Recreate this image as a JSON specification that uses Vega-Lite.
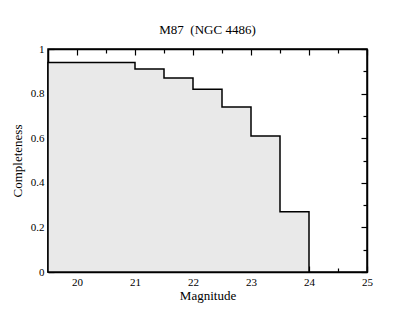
{
  "$schema": "https://vega.github.io/schema/vega-lite/v6.json",
  "width": 319,
  "height": 223,
  "autosize": "none",
  "padding": {"left": 48, "top": 49, "right": 48, "bottom": 49},
  "background": "white",
  "title": {"text": "M87\u00a0\u00a0(NGC 4486)", "font": "Liberation Serif", "fontSize": 13, "fontWeight": "normal", "color": "black", "offset": 6},
  "config": {
    "view": {"stroke": "black", "strokeWidth": 1.5},
    "axis": {"labelFont": "Liberation Serif", "titleFont": "Liberation Serif", "labelFontSize": 11, "titleFontSize": 13, "titleFontWeight": "normal", "labelColor": "black", "titleColor": "black", "domainColor": "black", "domainWidth": 1.5, "tickColor": "black", "tickWidth": 1.2, "grid": false}
  },
  "data": {"values": [
    {"mag": 19.5, "c": 0.94},
    {"mag": 21.0, "c": 0.91},
    {"mag": 21.5, "c": 0.87},
    {"mag": 22.0, "c": 0.82},
    {"mag": 22.5, "c": 0.74},
    {"mag": 23.0, "c": 0.61},
    {"mag": 23.5, "c": 0.27},
    {"mag": 24.0, "c": 0.0}
  ]},
  "resolve": {"axis": {"x": "independent", "y": "independent"}},
  "layer": [
    {
      "mark": {"type": "area", "interpolate": "step-after", "fill": "#e9e9e9", "stroke": "black", "strokeWidth": 1.5},
      "encoding": {
        "x": {"field": "mag", "type": "quantitative", "scale": {"domain": [19.5, 25], "nice": false, "zero": false},
          "axis": {"orient": "bottom", "title": "Magnitude", "titlePadding": 2, "format": "~g",
            "labelFont": "Liberation Serif", "labelFontSize": 11,
            "values": [20, 20.5, 21, 21.5, 22, 22.5, 23, 23.5, 24, 24.5, 25],
            "labelExpr": "datum.value % 1 === 0 ? datum.label : ''",
            "tickSize": {"condition": {"test": "datum.value % 1 === 0", "value": -6}, "value": -4},
            "labelPadding": 10, "labelFlush": false}},
        "y": {"field": "c", "type": "quantitative", "scale": {"domain": [0, 1], "nice": false},
          "axis": {"orient": "left", "title": "Completeness", "titlePadding": 6, "format": "~g",
            "labelFont": "Liberation Serif", "labelFontSize": 11,
            "values": [0, 0.1, 0.2, 0.3, 0.4, 0.5, 0.6, 0.7, 0.8, 0.9, 1],
            "labelExpr": "round(datum.value * 10) % 2 === 0 ? datum.label : ''",
            "tickSize": {"condition": {"test": "round(datum.value * 10) % 2 === 0", "value": -6}, "value": -4},
            "labelPadding": 10, "labelFlush": false}}
      }
    },
    {
      "mark": {"type": "point", "opacity": 0},
      "encoding": {
        "x": {"field": "mag", "type": "quantitative",
          "axis": {"orient": "top", "title": null, "labels": false,
            "values": [20, 20.5, 21, 21.5, 22, 22.5, 23, 23.5, 24, 24.5, 25],
            "tickSize": {"condition": {"test": "datum.value % 1 === 0", "value": -6}, "value": -4}}},
        "y": {"field": "c", "type": "quantitative",
          "axis": {"orient": "right", "title": null, "labels": false,
            "values": [0, 0.1, 0.2, 0.3, 0.4, 0.5, 0.6, 0.7, 0.8, 0.9, 1],
            "tickSize": {"condition": {"test": "round(datum.value * 10) % 2 === 0", "value": -6}, "value": -4}}}
      }
    }
  ]
}
